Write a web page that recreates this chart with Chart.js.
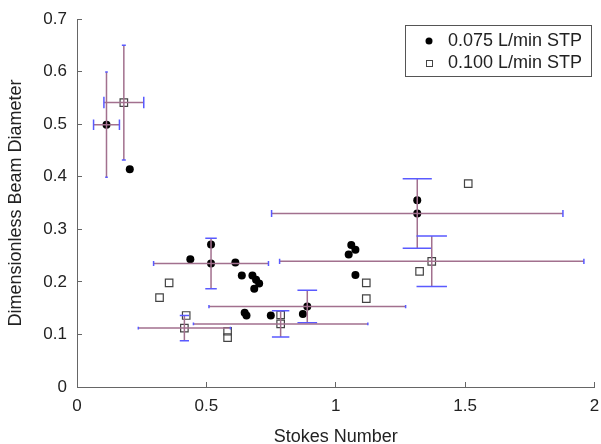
<!DOCTYPE html>
<html>
<head>
<meta charset="utf-8">
<script src="https://cdn.jsdelivr.net/npm/chart.js@4/dist/chart.umd.min.js"></script>
<style>
  body { margin: 0; background: #fff; }
  canvas { display: block; }
</style>
</head>
<body>
<canvas id="beamChart" width="601" height="444"></canvas>
<script>
'use strict';

// 0.075 L/min STP (filled circles)
const x075 = [0.114, 0.204, 0.438, 0.518, 0.518, 0.612, 0.637, 0.678, 0.692, 0.704, 0.685,
  0.648, 0.655, 0.749, 0.873, 0.89, 1.05, 1.06, 1.076, 1.076, 1.315, 1.315];
const y075 = [0.499, 0.414, 0.243, 0.271, 0.235, 0.237, 0.212, 0.212, 0.204, 0.197, 0.187,
  0.141, 0.136, 0.136, 0.139, 0.153, 0.252, 0.27, 0.261, 0.213, 0.355, 0.33];
const xErr075 = [0.05, 0, 0, 0, 0.222, 0, 0, 0, 0, 0, 0, 0, 0, 0, 0, 0.38, 0, 0, 0, 0, 0, 0.563];
const yErr075 = [0.1, 0, 0, 0, 0.048, 0, 0, 0, 0, 0, 0, 0, 0, 0, 0, 0.031, 0, 0, 0, 0, 0, 0.066];

// 0.100 L/min STP (open squares)
const x100 = [0.181, 0.319, 0.356, 0.422, 0.415, 0.582, 0.582, 0.787, 0.787, 1.118, 1.118,
  1.324, 1.371, 1.512];
const y100 = [0.541, 0.17, 0.198, 0.136, 0.112, 0.106, 0.094, 0.137, 0.12, 0.198, 0.168,
  0.22, 0.239, 0.387];
const xErr100 = [0.077, 0, 0, 0, 0.178, 0, 0, 0, 0.337, 0, 0, 0, 0.588, 0];
const yErr100 = [0.109, 0, 0, 0, 0.024, 0, 0, 0, 0.025, 0, 0, 0, 0.048, 0];

const seriesNames = ['0.075 L/min STP', '0.100 L/min STP'];
const xTicks = [0, 0.5, 1, 1.5, 2];
const yTicks = [0, 0.1, 0.2, 0.3, 0.4, 0.5, 0.6, 0.7];

const FONT = "'Liberation Sans', Arial, sans-serif";

function toPoints(xs, ys, xe, ye) {
  return xs.map((v, i) => ({ x: v, y: ys[i], xe: xe[i], ye: ye[i] }));
}

// error bars drawn on top of the markers, caps scaled to the other bar
const errorBars = {
  id: 'errorBars',
  afterDatasetsDraw(chart) {
    const { ctx, scales: { x, y } } = chart;
    ctx.save();
    ctx.lineWidth = 1.5;
    chart.data.datasets.forEach((ds) => {
      ds.data.forEach((p) => {
        if (!p.xe && !p.ye) return;
        const px = x.getPixelForValue(p.x);
        const py = y.getPixelForValue(p.y);
        const x1 = x.getPixelForValue(p.x - p.xe);
        const x2 = x.getPixelForValue(p.x + p.xe);
        const y1 = y.getPixelForValue(p.y - p.ye);
        const y2 = y.getPixelForValue(p.y + p.ye);
        const capW = (x2 - x1) * 0.05;
        const capH = (y1 - y2) * 0.05;
        ctx.strokeStyle = '#a2708e';
        ctx.beginPath();
        ctx.moveTo(px, y1); ctx.lineTo(px, y2);
        ctx.moveTo(x1, py); ctx.lineTo(x2, py);
        ctx.stroke();
        ctx.strokeStyle = '#5a5aff';
        ctx.beginPath();
        ctx.moveTo(px - capW, y1); ctx.lineTo(px + capW, y1);
        ctx.moveTo(px - capW, y2); ctx.lineTo(px + capW, y2);
        ctx.moveTo(x1, py - capH); ctx.lineTo(x1, py + capH);
        ctx.moveTo(x2, py - capH); ctx.lineTo(x2, py + capH);
        ctx.stroke();
      });
    });
    ctx.restore();
  },
};

const boxLegend = {
  id: 'boxLegend',
  afterDraw(chart) {
    const { ctx } = chart;
    ctx.save();
    ctx.fillStyle = '#fff';
    ctx.fillRect(405.5, 25.5, 186, 51);
    ctx.strokeStyle = '#555';
    ctx.lineWidth = 1;
    ctx.strokeRect(405.5, 25.5, 186, 51);
    ctx.font = '18px ' + FONT;
    ctx.textBaseline = 'middle';
    ctx.fillStyle = '#222';
    ctx.fillText(seriesNames[0], 448, 41);
    ctx.fillText(seriesNames[1], 448, 63);
    ctx.beginPath();
    ctx.arc(429, 41, 3.5, 0, Math.PI * 2);
    ctx.fillStyle = '#000';
    ctx.fill();
    ctx.strokeStyle = '#444';
    ctx.strokeRect(426.5, 60.5, 6, 6);
    ctx.restore();
  },
};

new Chart(document.getElementById('beamChart'), {
  type: 'scatter',
  data: {
    datasets: [
      {
        label: seriesNames[0],
        data: toPoints(x075, y075, xErr075, yErr075),
        pointStyle: 'circle',
        pointRadius: 4,
        backgroundColor: '#000',
        borderColor: '#000',
        borderWidth: 0,
      },
      {
        label: seriesNames[1],
        data: toPoints(x100, y100, xErr100, yErr100),
        pointStyle: 'rect',
        pointRadius: 5.3,
        backgroundColor: 'rgba(0,0,0,0)',
        borderColor: '#444',
        borderWidth: 1.2,
      },
    ],
  },
  options: {
    responsive: false,
    animation: false,
    layout: { padding: { left: 0, right: 4, top: 19, bottom: 0 } },
    plugins: {
      legend: { display: false },
      tooltip: { enabled: false },
    },
    scales: {
      x: {
        type: 'linear',
        min: 0,
        max: 2,
        afterBuildTicks: (s) => { s.ticks = xTicks.map((v) => ({ value: v })); },
        afterFit: (s) => { s.height = 57; s.paddingLeft = 0; s.paddingRight = 0; },
        grid: { drawOnChartArea: false, drawTicks: true, tickLength: -5, color: '#666' },
        border: { display: true, color: '#666', width: 1 },
        ticks: {
          padding: 14,
          color: '#222',
          font: { family: FONT, size: 17 },
          maxRotation: 0,
          callback: (v) => String(v),
        },
        title: {
          display: true,
          text: 'Stokes Number',
          color: '#222',
          font: { family: FONT, size: 18, lineHeight: 1 },
          padding: { top: 0, bottom: -2 },
        },
      },
      y: {
        type: 'linear',
        min: 0,
        max: 0.7,
        afterBuildTicks: (s) => { s.ticks = yTicks.map((v) => ({ value: v })); },
        afterFit: (s) => { s.width = 77; s.paddingTop = 0; s.paddingBottom = 0; },
        grid: { drawOnChartArea: false, drawTicks: true, tickLength: -5, color: '#666' },
        border: { display: true, color: '#666', width: 1 },
        ticks: {
          padding: 15,
          color: '#222',
          font: { family: FONT, size: 17 },
          callback: (v) => String(v),
        },
        title: {
          display: true,
          text: 'Dimensionless Beam Diameter',
          color: '#222',
          font: { family: FONT, size: 18 },
          padding: { top: 5, bottom: 0 },
        },
      },
    },
  },
  plugins: [errorBars, boxLegend],
});
</script>
</body>
</html>
